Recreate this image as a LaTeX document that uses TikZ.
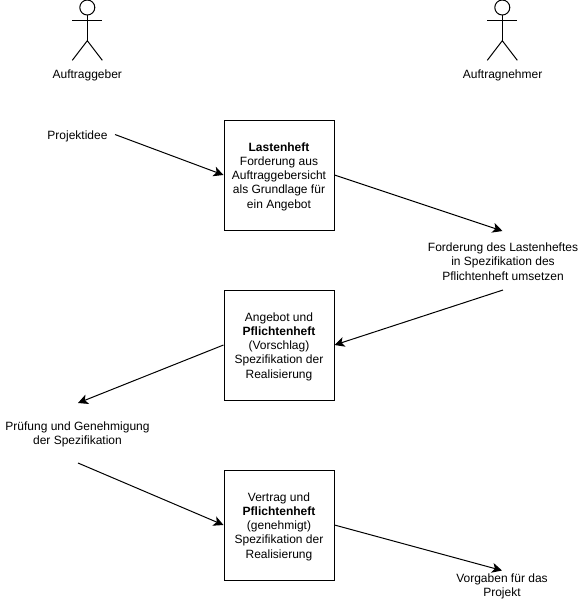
\documentclass[tikz,border=0pt]{standalone}
\usepackage{fontspec}
\setmainfont{Liberation Sans}
\usetikzlibrary{arrows.meta, positioning}
\newcommand{\boxstrut}{\rule{0pt}{8.7pt}}
\tikzset{
  flowarrow/.style={-{Stealth[length=7.5pt,width=7.5pt,inset=2pt]}, line width=0.75pt},
  docbox/.style={draw, line width=0.75pt, minimum width=82.5pt, minimum height=82.5pt, inner sep=0pt, align=center, font=\fontsize{9}{10.7}\selectfont},
  plaintext/.style={inner sep=0pt, align=center, font=\fontsize{9}{10.9}\selectfont},
  actorline/.style={line width=0.75pt}
}
\begin{document}
\begin{tikzpicture}[x=0.75pt, y=-0.75pt]
  \useasboundingbox (0,0) rectangle (581,601);
  % ---- Actors ----
  \foreach \x in {87.3, 502.3} {
    \draw[actorline] (\x,7.5) circle (7.5);
    \draw[actorline] (\x,15) -- (\x,40.7) (\x-15,20.3) -- (\x+15,20.3);
    \draw[actorline] (\x-15,60.3) -- (\x,40.7) -- (\x+15,60.3);
  }
  \node[plaintext] (auftraggeber) at (87.3,75) {Auftraggeber};
  \node[plaintext] (auftragnehmer) at (502.6,75) {Auftragnehmer};

  % ---- Boxes ----
  \node[docbox] (lastenheft) at (279,175) {\boxstrut\textbf{Lastenheft}\\Forderung aus\\Auftraggebersicht\\als Grundlage für\\ein Angebot};
  \node[docbox] (angebot) at (279,345) {\boxstrut Angebot und\\\textbf{Pflichtenheft}\\(Vorschlag)\\Spezifikation der\\Realisierung};
  \node[docbox] (vertrag) at (279,525) {\boxstrut Vertrag und\\\textbf{Pflichtenheft}\\(genehmigt)\\Spezifikation der\\Realisierung};

  % ---- Free texts ----
  \node[plaintext] (idee) at (77.5,136) {Projektidee};
  \node[plaintext] (forderung) at (503,261.5) {Forderung des Lastenheftes\\in Spezifikation des\\Pflichtenheft umsetzen};
  \node[plaintext] (pruefung) at (77.5,434.5) {Prüfung und Genehmigung\\der Spezifikation};
  \node[plaintext] (vorgaben) at (502,586.5) {Vorgaben für das\\Projekt};

  % ---- Free arrow ends ----
  \coordinate (ideeEnd) at (115,134.5);
  \coordinate (forderungTop) at (502.5,231);
  \coordinate (forderungEnd) at (503,290);
  \coordinate (pruefungTop) at (78,403);
  \coordinate (pruefungEnd) at (78,463);
  \coordinate (vorgabenTop) at (502,570.5);

  % ---- Arrows ----
  \draw[flowarrow] (ideeEnd) -- (lastenheft.west);
  \draw[flowarrow] (lastenheft.east) -- (forderungTop);
  \draw[flowarrow] (forderungEnd) -- (angebot.east);
  \draw[flowarrow] (angebot.west) -- (pruefungTop);
  \draw[flowarrow] (pruefungEnd) -- (vertrag.west);
  \draw[flowarrow] (vertrag.east) -- (vorgabenTop);
\end{tikzpicture}
\end{document}
